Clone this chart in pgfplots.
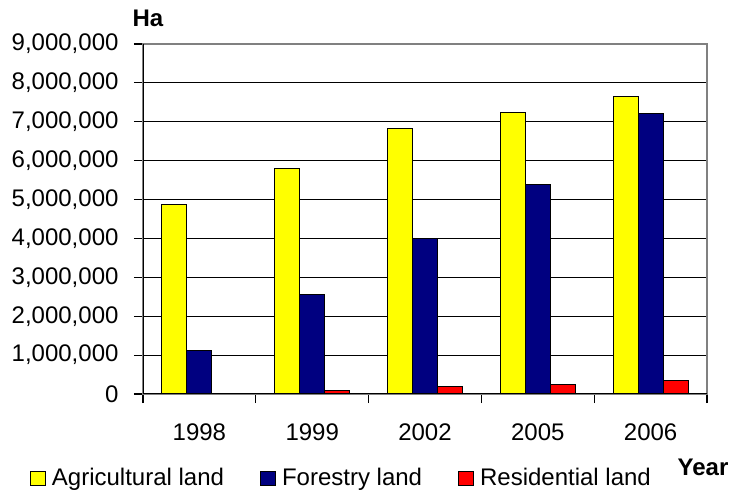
\documentclass[border=0pt]{standalone}
\usepackage{fontspec}
\setmainfont{Liberation Sans}
\usepackage{pgfplots}
\pgfplotsset{compat=1.18}
\definecolor{agri}{RGB}{255,255,0}
\definecolor{fore}{RGB}{0,0,128}
\definecolor{resi}{RGB}{255,0,0}
\begin{document}
\begin{tikzpicture}
\begin{axis}[name=ax,
 scale only axis, width=564pt, height=350pt,
 xmin=0, xmax=5, ymin=0, ymax=9000000,
 ybar=0pt, bar width=25pt,
 xtick={0,...,5}, xticklabels={},
 extra x ticks={0.5,1.5,2.5,3.5,4.5},
 extra x tick labels={1998,1999,2002,2005,2006},
 extra x tick style={major tick length=0pt, grid=none},
 ytick={0,1000000,...,9000000},
 tick pos=left,
 tick align=outside, major tick length=9pt,
 tick style={black, line width=1.1pt},
 ymajorgrids, grid style={black, line width=1.1pt},
 axis line style={gray, line width=1.1pt},
 scaled y ticks=false,
 yticklabel style={/pgf/number format/.cd, fixed, 1000 sep={,}, /tikz/.cd, xshift=-12pt},
 xticklabel style={yshift=-26pt},
 /pgf/number format/assume math mode=true,
 tick label style={font=\fontsize{24}{28}\selectfont},
 legend columns=3,
 legend style={draw=none, fill=none, inner sep=0pt, outer sep=0pt,
   at={(-0.2004,-0.24)}, anchor=west,
   font=\fontsize{24}{28}\selectfont,
   /tikz/every odd column/.append style={column sep=4pt},
   /tikz/every even column/.append style={column sep=34pt}},
 legend image code/.code={\draw[#1, line width=1pt] (0pt,-7pt) rectangle (15pt,7pt);},
]
\addplot[fill=agri, draw=black, line width=1pt] coordinates {(0.5,4880000) (1.5,5800000) (2.5,6830000) (3.5,7240000) (4.5,7640000)};
\addplot[fill=fore, draw=black, line width=1pt] coordinates {(0.5,1120000) (1.5,2560000) (2.5,4000000) (3.5,5390000) (4.5,7200000)};
\addplot[fill=resi, draw=black, line width=1pt] coordinates {(0.5,0) (1.5,95000) (2.5,185000) (3.5,250000) (4.5,340000)};
\legend{Agricultural land, Forestry land, Residential land}
\draw[gray, line width=1.1pt] (rel axis cs:0,1) -- (rel axis cs:1,1) -- (rel axis cs:1,0);
\draw[black, line width=1.1pt] (rel axis cs:0,1) -- (rel axis cs:0,0) -- (rel axis cs:1,0);
\end{axis}
\node[font=\fontsize{24}{28}\selectfont\bfseries] at ([shift={(5pt,26pt)}]ax.north west) {Ha};
\node[font=\fontsize{24}{28}\selectfont\bfseries] at ([shift={(-4pt,-73pt)}]ax.south east) {Year};
\pgfresetboundingbox
\path ([shift={(-143pt,-105pt)}]ax.south west) rectangle ([shift={(24pt,44pt)}]ax.north east);
\end{tikzpicture}
\end{document}
